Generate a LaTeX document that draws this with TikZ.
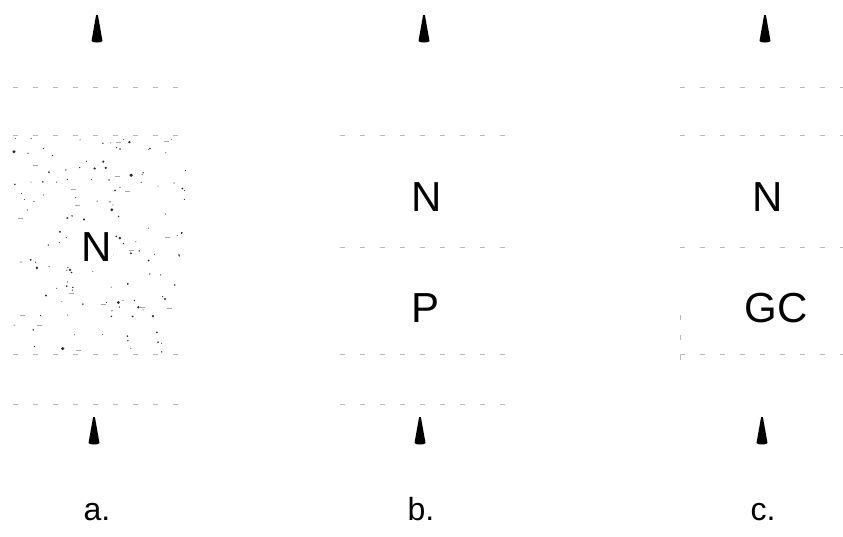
\documentclass[tikz,border=0pt]{standalone}
\usepackage{fontspec}
\setmainfont{Liberation Sans}
\begin{document}
\begin{tikzpicture}[x=1pt,y=-1pt,
  layer/.style={draw=gray!55,line width=0.9pt,dash pattern=on 5pt off 15pt},
  big/.style={font=\fontsize{42}{48}\selectfont,inner sep=0pt},
  lab/.style={font=\fontsize{32}{38}\selectfont,inner sep=0pt,anchor=base},
  uphead/.pic={\fill[black] (-5.5,0) .. controls (-5.5,2) and (5.5,2) .. (5.5,0) -- (0.9,-26) -- (-0.9,-26) -- cycle;}]
\useasboundingbox (0,0) rectangle (843,536);
% ---------- panel a ----------
\draw[layer] (13,87) -- (188,87);
\draw[layer] (13,135) -- (188,135);
\draw[layer] (13,354) -- (188,354);
\draw[layer] (13,404) -- (188,404);
\pgfmathsetseed{11}
\foreach \i in {1,...,130}{
  \pgfmathsetmacro\xx{14+173*rnd}
  \pgfmathsetmacro\yy{138+214*rnd}
  \pgfmathsetmacro\rr{0.5+1.3*rnd*rnd}
  \fill[black!85] (\xx,\yy) circle (\rr);
}
\foreach \i in {1,...,18}{
  \pgfmathsetmacro\xx{14+165*rnd}
  \pgfmathsetmacro\yy{138+214*rnd}
  \draw[gray!70,line width=0.6pt] (\xx,\yy) -- ++(5,0);
}
\node[big,fill=white,inner sep=1pt] (Na) at (97,247) {N};
\pic at (97,41) {uphead};
\pic at (94,443) {uphead};
\node[lab] (la) at (97,520) {a.};
% ---------- panel b ----------
\draw[layer] (340,135) -- (513,135);
\draw[layer] (340,247) -- (513,247);
\draw[layer] (340,354) -- (513,354);
\draw[layer] (340,404) -- (513,404);
\node[big] (Nb) at (427,197) {N};
\node[big] (Pb) at (426,308) {P};
\pic at (424,41) {uphead};
\pic at (420,443) {uphead};
\node[lab] (lb) at (421,520) {b.};
% ---------- panel c ----------
\draw[layer] (680,87) -- (843,87);
\draw[layer] (680,135) -- (843,135);
\draw[layer] (680,247) -- (843,247);
\draw[layer] (680,354) -- (843,354);
\draw[layer] (680,315) -- (680,364);
\node[big] (Nc) at (768,197) {N};
\node[big] (GC) at (776,308) {GC};
\pic at (765,41) {uphead};
\pic at (762,443) {uphead};
\node[lab] (lc) at (763,520) {c.};
\end{tikzpicture}
\end{document}
